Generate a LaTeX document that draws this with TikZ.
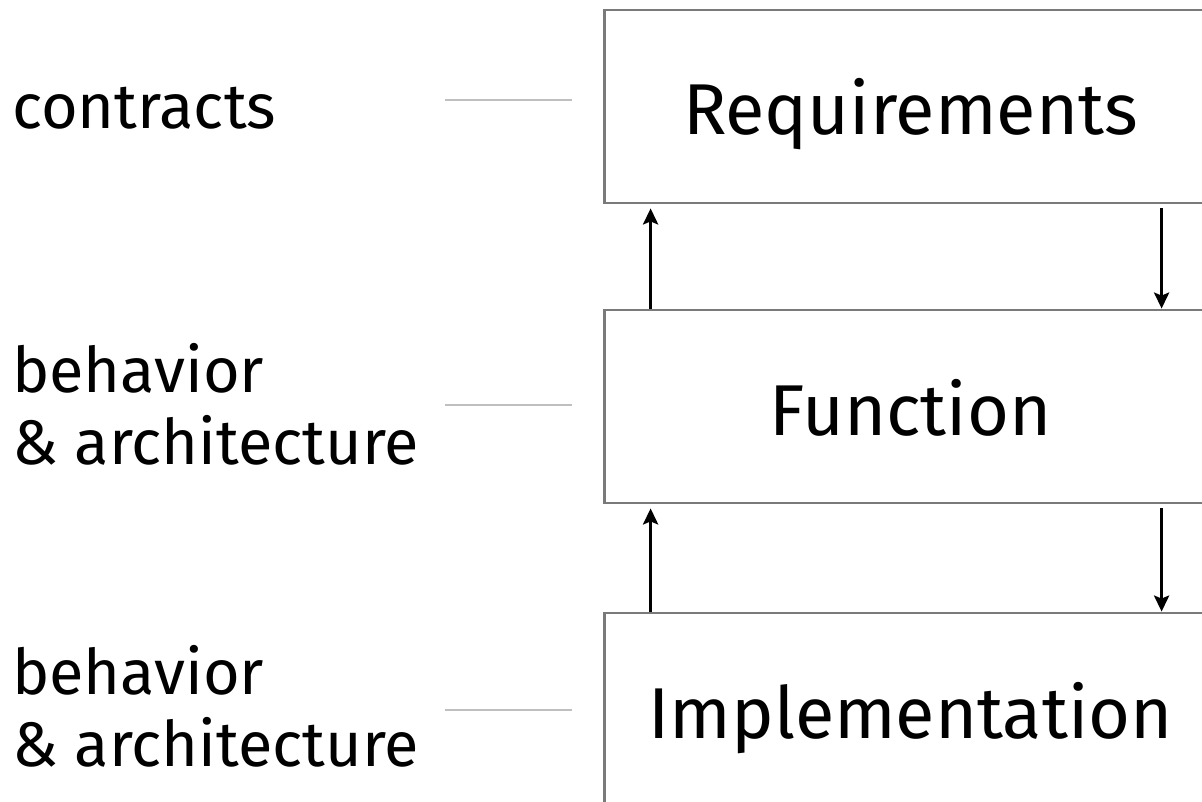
\documentclass[tikz,border=0pt]{standalone}
\usepackage{fontspec}
\setmainfont{Fira Sans}
\usetikzlibrary{arrows.meta}
\tikzset{
  x=1pt, y=-1pt,
  box/.style={draw=black!52, line width=2.8pt, minimum width=612pt, minimum height=193pt,
    inner sep=0pt, text height=57pt, text depth=0pt, font=\fontsize{72}{80}\selectfont},
  lbl/.style={anchor=west, align=left, inner sep=0pt, font=\fontsize{63}{72}\selectfont},
  arr/.style={line width=3.3pt, -{Stealth[length=16pt,width=15pt,inset=3pt]}},
  tie/.style={draw=black!25, line width=2pt}
}
\begin{document}
\begin{tikzpicture}
\useasboundingbox (0,0) rectangle (1202,802);
\clip (0,0) rectangle (1202,802);
\node[box] (req) at (910.5,106.5) {Requirements};
\node[box] (fun) at (910.5,406.5) {Function};
\node[box] (imp) at (910.5,709.5) {Implementation};
\node[lbl] (l1) at (12,108) {contracts};
\node[lbl] (l2) at (12,404) {behavior\\\& architecture};
\node[lbl] (l3) at (12,706) {behavior\\\& architecture};
\coordinate (a1) at (445,100.5);
\coordinate (b1) at (572,100.5);
\coordinate (a2) at (445,405);
\coordinate (b2) at (572,405);
\coordinate (a3) at (445,710);
\coordinate (b3) at (572,710);
\draw[tie] (a1) -- (b1);
\draw[tie] (a2) -- (b2);
\draw[tie] (a3) -- (b3);
\draw[arr, shorten >=4pt] ([xshift=47.5pt]fun.north west) -- ([xshift=47.5pt]req.south west);
\draw[arr, shorten <=4pt] ([xshift=558.5pt]req.south west) -- ([xshift=558.5pt]fun.north west);
\draw[arr, shorten >=4pt] ([xshift=47.5pt]imp.north west) -- ([xshift=47.5pt]fun.south west);
\draw[arr, shorten <=4pt] ([xshift=558.5pt]fun.south west) -- ([xshift=558.5pt]imp.north west);
\end{tikzpicture}
\end{document}
